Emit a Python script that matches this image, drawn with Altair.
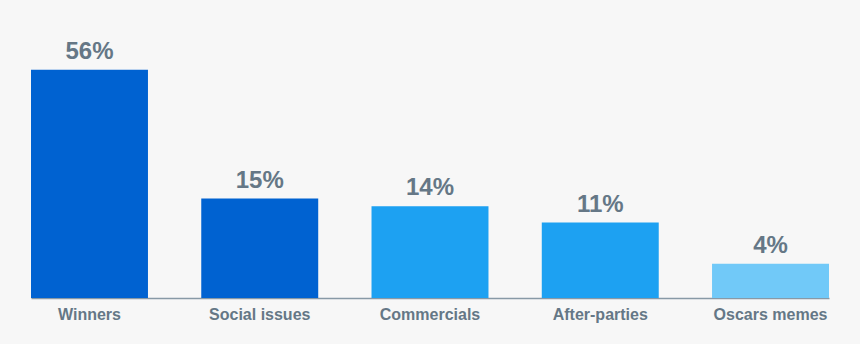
import altair as alt
import pandas as pd

categories = ["Winners", "Social issues", "Commercials", "After-parties", "Oscars memes"]
labels = ["56%", "15%", "14%", "11%", "4%"]
# bar lengths as drawn in the picture (percent-equivalent units on the drawn scale)
bar_values = [56, 24.4, 22.5, 18.5, 8.4]
colors = ["#0062D1", "#0062D1", "#1DA1F2", "#1DA1F2", "#71C9F8"]

df = pd.DataFrame({"cat": categories, "v": bar_values, "label": labels, "color": colors})

x = alt.X("cat:N", sort=categories, title=None,
          scale=alt.Scale(paddingInner=0.313, paddingOuter=0),
          axis=alt.Axis(labelAngle=0, ticks=False, labelPadding=8, labelFontSize=16,
                        labelFont="Liberation Sans", labelFontWeight="bold",
                        labelColor="#657786", domainColor="#8899A6", domainWidth=1.5))
y = alt.Y("v:Q", title=None, scale=alt.Scale(domain=[0, 68.2], nice=False), axis=None)

bars = alt.Chart(df).mark_bar().encode(x=x, y=y, color=alt.Color("color:N", scale=None))
text = alt.Chart(df).mark_text(baseline="alphabetic", dy=-11, fontSize=24, font="Liberation Sans",
                               fontWeight="bold", color="#657786").encode(x=x, y=y, text="label:N")

chart = (bars + text).properties(
    width=798, height=278,
    background="#F7F7F7",
    autosize=alt.AutoSizeParams(type="none"),
    padding={"left": 31, "top": 20, "right": 31, "bottom": 46},
).configure_view(stroke=None)

chart.save("out.html", embed_options={"renderer": "svg", "actions": False})
